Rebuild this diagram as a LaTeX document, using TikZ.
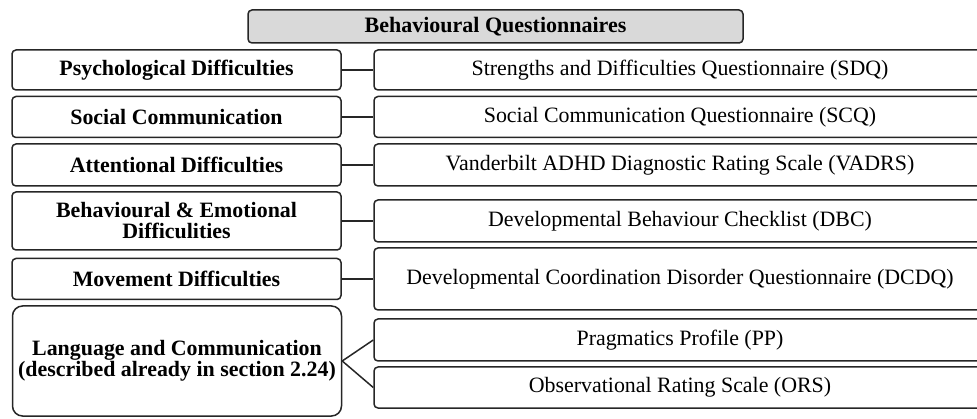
\documentclass[tikz,border=0pt]{standalone}
\usepackage{fontspec}
\setmainfont{Liberation Serif}
\begin{document}
\begin{tikzpicture}[x=1pt,y=-1pt,
  box/.style={draw=black!85, line width=1.5pt, rounded corners=4pt, inner sep=0pt, align=center,
    font=\fontsize{21.9}{21}\selectfont},
  lbox/.style={box, minimum width=329pt, font=\bfseries\fontsize{21.9}{21}\selectfont},
  rbox/.style={box, minimum width=612pt},
  conn/.style={line width=1.5pt, draw=black!85}]
\clip (0,0) rectangle (977,419);
\node[box, fill=black!15, minimum width=495pt, minimum height=33pt, font=\bfseries\fontsize{22}{21}\selectfont] (title) at (495.5,26.5) {Behavioural Questionnaires};

\node[lbox, minimum height=40pt] (psy) at (176.5,70) {Psychological Difficulties};
\node[lbox, minimum height=41pt] (soc) at (176.5,117) {Social Communication};
\node[lbox, minimum height=42pt] (att) at (176.5,165) {Attentional Difficulties};
\node[lbox, minimum height=58pt] (beh) at (176.5,221) {Behavioural \& Emotional\\Difficulities};
\node[lbox, minimum height=41pt] (mov) at (176.5,279) {Movement Difficulties};
\node[lbox, minimum height=110pt, rounded corners=10pt] (lang) at (177,361) {Language and Communication\\(described already in section 2.24)};

\node[rbox, minimum height=40pt] (sdq) at (680,70) {Strengths and Difficulties Questionnaire (SDQ)};
\node[rbox, minimum height=41pt] (scq) at (680,117) {Social Communication Questionnaire (SCQ)};
\node[rbox, minimum height=42pt] (vadrs) at (680,165) {Vanderbilt ADHD Diagnostic Rating Scale (VADRS)};
\node[rbox, minimum height=42pt] (dbc) at (680,221) {Developmental Behaviour Checklist (DBC)};
\node[rbox, minimum height=62pt] (dcdq) at (680,279) {Developmental Coordination Disorder Questionnaire (DCDQ)};
\node[rbox, minimum height=42pt] (pp) at (680,340) {Pragmatics Profile (PP)};
\node[rbox, minimum height=41pt] (ors) at (680,387.5) {Observational Rating Scale (ORS)};

\draw[conn] (psy.east) -- (sdq.west);
\draw[conn] (soc.east) -- (scq.west);
\draw[conn] (att.east) -- (vadrs.west);
\draw[conn] (beh.east) -- (dbc.west);
\draw[conn] (mov.east) -- (dcdq.west);
\draw[conn] (lang.east) -- (pp.west);
\draw[conn] (lang.east) -- (ors.west);
\end{tikzpicture}
\end{document}
